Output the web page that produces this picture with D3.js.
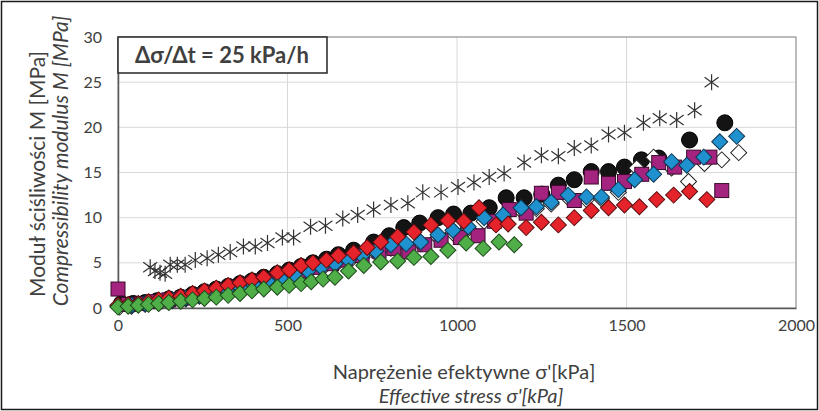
<!DOCTYPE html>
<html>
<head>
<meta charset="utf-8">
<script src="https://cdn.jsdelivr.net/npm/d3@7"></script>
<style>
  body { margin: 0; background: #fff; }
  svg text { font-family: Lato, "Open Sans", sans-serif; fill: #404040; }
</style>
</head>
<body>
<div id="chart"></div>
<script>
// values: effective stress [kPa] -> compressibility modulus [MPa]
const starX = [95, 109, 124, 139, 154, 175, 198, 228, 263, 296, 331, 370, 405, 441, 485, 518, 568, 612, 663, 707, 754, 805, 855, 899, 953, 1003, 1050, 1095, 1139, 1198, 1249, 1299, 1346, 1396, 1447, 1494, 1550, 1598, 1648, 1701, 1751];
const starY = [4.5, 4.1, 3.9, 3.8, 4.8, 4.8, 4.8, 5.3, 5.5, 5.9, 6.2, 6.8, 6.8, 7.2, 7.8, 7.8, 9.0, 9.1, 9.9, 10.3, 10.9, 11.4, 11.6, 12.8, 12.8, 13.4, 13.9, 14.5, 14.9, 16.1, 16.9, 16.8, 17.7, 18.0, 19.2, 19.4, 20.5, 21.0, 20.8, 21.9, 25.0];

const circX = [10, 45, 80, 115, 150, 185, 220, 255, 290, 325, 360, 395, 430, 470, 505, 540, 575, 615, 650, 695, 754, 800, 843, 890, 944, 990, 1041, 1095, 1145, 1198, 1250, 1299, 1346, 1396, 1447, 1494, 1544, 1595, 1686, 1790];
const circY = [0.5, 0.5, 0.6, 0.8, 1.0, 1.2, 1.5, 1.8, 2.1, 2.4, 2.7, 3.0, 3.4, 3.8, 4.2, 4.6, 5.0, 5.4, 5.9, 6.4, 7.3, 8.0, 8.9, 9.4, 10.0, 10.4, 10.5, 11.1, 12.2, 12.2, 12.6, 13.6, 14.2, 15.1, 15.1, 15.6, 16.4, 16.6, 18.6, 20.5];

const whiteX = [5, 40, 80, 120, 160, 200, 240, 280, 320, 360, 400, 440, 480, 520, 560, 600, 640, 680, 720, 760, 805, 850, 893, 944, 988, 1033, 1080, 1136, 1189, 1234, 1278, 1328, 1382, 1426, 1476, 1530, 1580, 1633, 1683, 1730, 1781, 1831];
const whiteY = [0.1, 0.2, 0.4, 0.6, 0.8, 1.0, 1.3, 1.6, 1.9, 2.2, 2.5, 2.8, 3.1, 3.5, 3.9, 4.3, 4.7, 5.1, 5.6, 6.1, 6.6, 6.9, 7.1, 7.8, 8.3, 8.8, 9.6, 10.0, 10.8, 11.0, 11.5, 12.2, 12.0, 12.1, 12.8, 15.5, 16.7, 15.5, 14.0, 16.0, 16.4, 17.2];

const magX = [0, 30, 70, 110, 150, 190, 230, 270, 310, 350, 390, 430, 470, 510, 550, 590, 630, 670, 720, 770, 814, 858, 905, 953, 1010, 1062, 1110, 1154, 1204, 1249, 1299, 1346, 1396, 1447, 1494, 1545, 1595, 1642, 1698, 1746, 1781];
const magY = [2.1, 0.4, 0.5, 0.7, 0.9, 1.1, 1.4, 1.7, 2.0, 2.3, 2.6, 3.0, 3.3, 3.7, 4.1, 4.5, 4.9, 5.3, 5.8, 6.3, 6.6, 6.2, 7.0, 7.5, 7.8, 8.0, 9.6, 10.9, 10.5, 12.7, 12.8, 11.9, 14.5, 13.8, 14.0, 14.8, 16.1, 15.6, 16.7, 16.7, 13.0];

const blueX = [0, 40, 80, 120, 160, 200, 240, 280, 320, 360, 400, 440, 480, 520, 560, 600, 640, 680, 720, 760, 805, 850, 893, 944, 988, 1033, 1080, 1136, 1189, 1234, 1278, 1328, 1382, 1426, 1476, 1524, 1580, 1633, 1678, 1728, 1775, 1825];
const blueY = [0.2, 0.3, 0.5, 0.7, 0.9, 1.1, 1.4, 1.7, 2.0, 2.3, 2.6, 3.0, 3.3, 3.7, 4.1, 4.5, 4.9, 5.3, 5.8, 6.3, 7.0, 7.1, 7.3, 8.1, 8.6, 9.0, 10.0, 10.3, 11.1, 11.2, 11.7, 12.5, 12.3, 12.3, 13.1, 14.2, 14.8, 16.2, 15.8, 16.7, 18.4, 19.0];

const redX = [0, 30, 60, 90, 120, 150, 185, 220, 255, 290, 325, 360, 395, 430, 470, 505, 540, 575, 615, 650, 695, 735, 775, 825, 873, 923, 973, 1020, 1065, 1115, 1151, 1204, 1249, 1299, 1346, 1396, 1447, 1494, 1538, 1589, 1639, 1686, 1737];
const redY = [0.3, 0.4, 0.5, 0.7, 0.9, 1.1, 1.3, 1.6, 1.9, 2.2, 2.5, 2.8, 3.1, 3.4, 3.9, 4.2, 4.7, 5.0, 5.3, 5.8, 6.1, 6.7, 7.3, 7.9, 8.4, 9.2, 9.7, 9.6, 11.1, 9.2, 9.3, 8.9, 9.5, 9.2, 10.0, 10.8, 11.1, 11.4, 11.2, 12.0, 12.5, 12.9, 12.0];

const greenX = [0, 30, 60, 90, 120, 150, 185, 220, 255, 290, 325, 360, 395, 430, 470, 505, 540, 570, 605, 640, 680, 725, 775, 825, 873, 923, 973, 1027, 1077, 1124, 1169];
const greenY = [0.1, 0.2, 0.3, 0.4, 0.5, 0.6, 0.75, 0.9, 1.05, 1.2, 1.4, 1.6, 1.9, 2.1, 2.3, 2.5, 2.7, 2.9, 3.2, 3.4, 4.1, 4.7, 5.1, 5.2, 5.6, 5.7, 6.4, 7.2, 6.6, 7.3, 7.0];

const xTicks = [0, 500, 1000, 1500, 2000];
const yTicks = [0, 5, 10, 15, 20, 25, 30];

const width = 819;
const height = 411;
const margin = {left: 118, right: 23, top: 37, bottom: 103};

const svg = d3.select("#chart")
    .append("svg")
    .attr("width", width)
    .attr("height", height);

const x = d3.scaleLinear().domain([0, 2000]).range([margin.left, width - margin.right]);
const y = d3.scaleLinear().domain([0, 30]).range([height - margin.bottom, margin.top]);

// outer frame
svg.append("rect")
    .attr("x", 1.5).attr("y", 1.5)
    .attr("width", width - 3).attr("height", height - 3)
    .attr("fill", "none")
    .attr("stroke", "#1a1a1a")
    .attr("stroke-width", 1.5);

// grid
svg.append("g")
    .selectAll("line")
    .data(yTicks.slice(1))
    .enter().append("line")
    .attr("x1", x(0)).attr("x2", x(2000))
    .attr("y1", d => y(d)).attr("y2", d => y(d))
    .attr("stroke", "#d9d9d9");

svg.append("g")
    .selectAll("line")
    .data(xTicks.slice(1))
    .enter().append("line")
    .attr("x1", d => x(d)).attr("x2", d => x(d))
    .attr("y1", y(0)).attr("y2", y(30))
    .attr("stroke", "#d9d9d9");

// plot frame
svg.append("rect")
    .attr("x", x(0)).attr("y", y(30))
    .attr("width", x(2000) - x(0)).attr("height", y(0) - y(30))
    .attr("fill", "none")
    .attr("stroke", "#8c8c8c");

// axes
const xAxis = svg.append("g")
    .attr("transform", "translate(0," + y(0) + ")")
    .call(d3.axisBottom(x).tickValues(xTicks).tickFormat(d3.format("d")).tickSize(0).tickPadding(12));
xAxis.select(".domain").attr("stroke", "#595959").attr("stroke-width", 1.5);
xAxis.selectAll("text").style("font-size", "16px").attr("fill", "#404040");

const yAxis = svg.append("g")
    .attr("transform", "translate(" + x(0) + ",0)")
    .call(d3.axisLeft(y).tickValues(yTicks).tickFormat(d3.format("d")).tickSize(0).tickPadding(16));
yAxis.select(".domain").attr("stroke", "#595959").attr("stroke-width", 1.5);
yAxis.selectAll("text").style("font-size", "16px").attr("fill", "#404040");

// markers
const plot = svg.append("g");

function zip(xs, ys) {
    return xs.map((d, i) => ({x: d, y: ys[i]}));
}

function diamonds(data, fill, stroke) {
    plot.append("g")
        .selectAll("path")
        .data(data)
        .enter().append("path")
        .attr("d", d3.symbol(d3.symbolSquare, 128)())
        .attr("transform", d => "translate(" + x(d.x) + "," + y(d.y) + ") rotate(45)")
        .attr("fill", fill)
        .attr("stroke", stroke)
        .attr("stroke-width", 1);
}

plot.append("g")
    .selectAll("circle")
    .data(zip(circX, circY))
    .enter().append("circle")
    .attr("cx", d => x(d.x))
    .attr("cy", d => y(d.y))
    .attr("r", 8)
    .attr("fill", "#141414")
    .attr("stroke", "#000");

diamonds(zip(whiteX, whiteY), "#fff", "#222");

plot.append("g")
    .selectAll("rect")
    .data(zip(magX, magY))
    .enter().append("rect")
    .attr("x", d => x(d.x) - 7)
    .attr("y", d => y(d.y) - 7)
    .attr("width", 14)
    .attr("height", 14)
    .attr("fill", "#a3237f")
    .attr("stroke", "#3a0a2c");

diamonds(zip(blueX, blueY), "#1f91cf", "#0d3550");
diamonds(zip(redX, redY), "#e5232a", "#5a0d10");
diamonds(zip(greenX, greenY), "#4fae48", "#1e4a1b");

// asterisks: vertical bar plus an X
plot.append("g")
    .selectAll("path")
    .data(zip(starX, starY))
    .enter().append("path")
    .attr("d", "M0,-8L0,8M-7,-5L7,5M-7,5L7,-5")
    .attr("transform", d => "translate(" + x(d.x) + "," + y(d.y) + ")")
    .attr("fill", "none")
    .attr("stroke", "#333")
    .attr("stroke-width", 1.2);

// rate label
svg.append("rect")
    .attr("x", x(0)).attr("y", y(30))
    .attr("width", 209).attr("height", 36)
    .attr("fill", "#fff")
    .attr("stroke", "#262626")
    .attr("stroke-width", 1.5);

svg.append("text")
    .attr("x", x(0) + 104).attr("y", y(30) + 26)
    .attr("text-anchor", "middle")
    .style("font-size", "22px")
    .style("font-weight", "bold")
    .attr("fill", "#262626")
    .text("Δσ/Δt = 25 kPa/h");

// axis titles
svg.append("text")
    .attr("x", 464).attr("y", 379)
    .attr("text-anchor", "middle")
    .style("font-size", "20px")
    .text("Naprężenie efektywne σ'[kPa]");

svg.append("text")
    .attr("x", 471).attr("y", 403)
    .attr("text-anchor", "middle")
    .style("font-size", "20px")
    .style("font-style", "italic")
    .text("Effective stress σ'[kPa]");

svg.append("text")
    .attr("transform", "translate(45,174) rotate(-90)")
    .attr("text-anchor", "middle")
    .style("font-size", "21px")
    .text("Moduł ściśliwości M [MPa]");

svg.append("text")
    .attr("transform", "translate(68,161) rotate(-90)")
    .attr("text-anchor", "middle")
    .style("font-size", "21px")
    .style("font-style", "italic")
    .text("Compressibility modulus M [MPa]");
</script>
</body>
</html>
